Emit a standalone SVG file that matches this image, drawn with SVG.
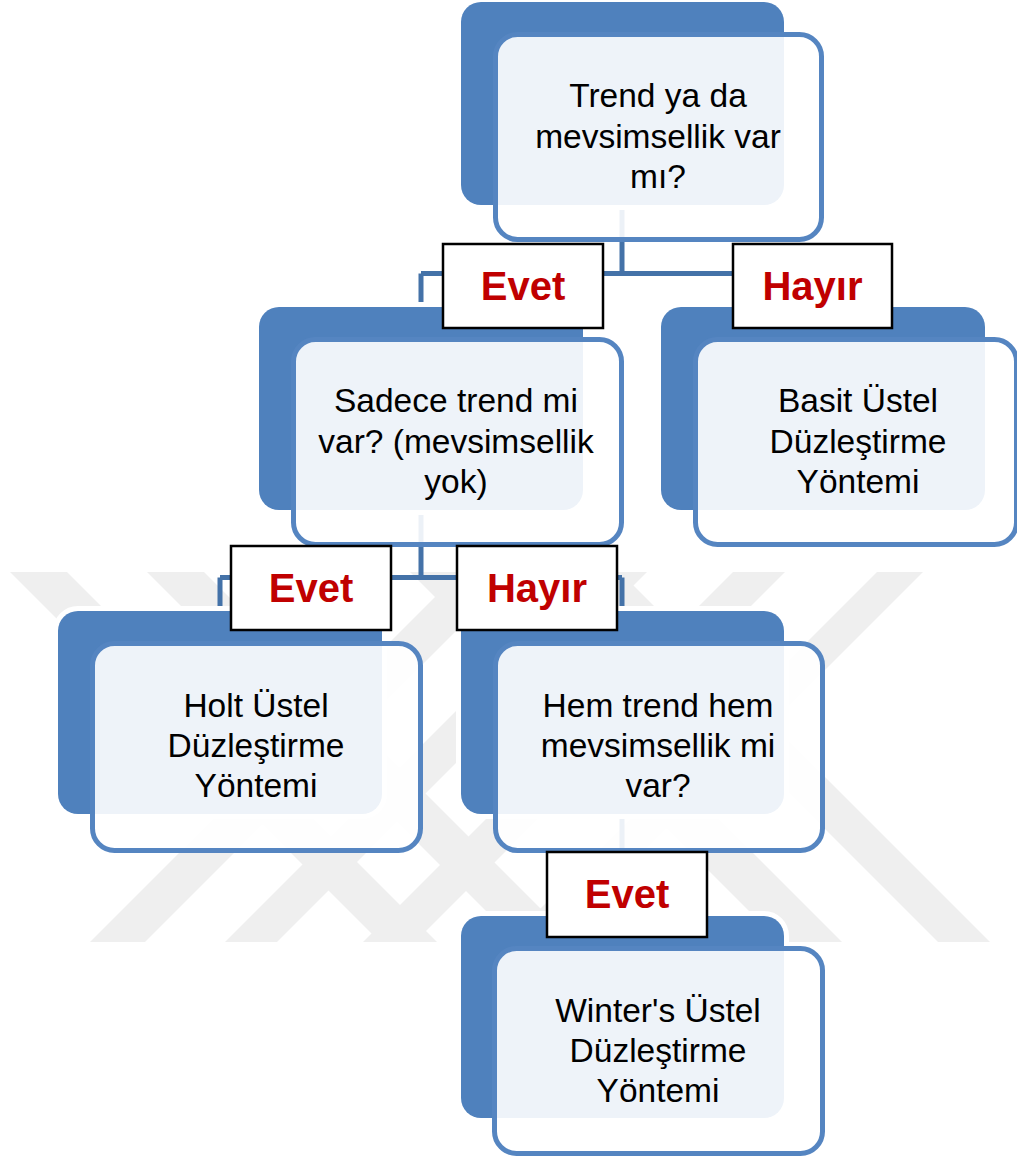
<svg xmlns="http://www.w3.org/2000/svg" width="1017" height="1158" viewBox="0 0 1017 1158">
<style>
.wm{fill:#efefef}
.back{fill:#4f81bd;stroke:#ffffff;stroke-width:10;paint-order:stroke}
.front{fill:#ffffff;fill-opacity:0.9;stroke:#5585c1;stroke-width:5}
.t{font-family:'Liberation Sans',Arial,sans-serif;font-size:33.5px;fill:#000000;text-anchor:middle}
.lb{fill:#ffffff;stroke:#000000;stroke-width:2.5}
.lt{font-family:'Liberation Sans',Arial,sans-serif;font-size:40px;font-weight:bold;fill:#c00000;text-anchor:middle}
.conn{fill:none;stroke:#4472a8;stroke-width:5}
</style>
<rect width="1017" height="1158" fill="#ffffff"/>
<g id="watermark">
<polygon class="wm" points="90,942 145,942 515,572 460,572"/>
<polygon class="wm" points="225,942 277,942 647,572 595,572"/>
<polygon class="wm" points="363,942 415,942 785,572 733,572"/>
<polygon class="wm" points="507,942 553,942 923,572 877,572"/>
<polygon class="wm" points="10,572 67,572 437,942 380,942"/>
<polygon class="wm" points="147,572 204,572 574,942 517,942"/>
<polygon class="wm" points="410,572 472,572 842,942 780,942"/>
<polygon class="wm" points="568,572 620,572 990,942 938,942"/>
</g>
<g id="connectors">
<path class="conn" d="M622 205V273.5M421 273.5H823M421 273.5V307M823 273.5V307"/>
<path class="conn" d="M421 510V577.5M220 577.5H622M220 577.5V611M622 577.5V611"/>
<path class="conn" d="M622 814V916"/>
</g>
<g id="node-trend">
<rect class="back" x="461" y="2" width="323" height="203" rx="20"/>
<rect class="front" x="495.5" y="34.5" width="326" height="205" rx="22"/>
<text class="t" x="658" y="107">Trend ya da</text>
<text class="t" x="658" y="148">mevsimsellik var</text>
<text class="t" x="658" y="188">mı?</text>
</g>
<g id="node-sadece">
<rect class="back" x="259" y="307" width="324" height="203" rx="20"/>
<rect class="front" x="293.5" y="339.5" width="328" height="205" rx="22"/>
<text class="t" x="456" y="412">Sadece trend mi</text>
<text class="t" x="456" y="453">var? (mevsimsellik</text>
<text class="t" x="456" y="493">yok)</text>
</g>
<g id="node-basit">
<rect class="back" x="661" y="307" width="324" height="203" rx="20"/>
<rect class="front" x="695.5" y="339.5" width="321" height="205" rx="22"/>
<text class="t" x="858" y="412">Basit Üstel</text>
<text class="t" x="858" y="453">Düzleştirme</text>
<text class="t" x="858" y="493">Yöntemi</text>
</g>
<g id="node-holt">
<rect class="back" x="58" y="611" width="324" height="203" rx="20"/>
<rect class="front" x="92.5" y="643.5" width="328" height="207" rx="22"/>
<text class="t" x="256" y="717">Holt Üstel</text>
<text class="t" x="256" y="757">Düzleştirme</text>
<text class="t" x="256" y="797">Yöntemi</text>
</g>
<g id="node-hem">
<rect class="back" x="461" y="611" width="323" height="203" rx="20"/>
<rect class="front" x="495.5" y="643.5" width="327" height="207" rx="22"/>
<text class="t" x="658" y="717">Hem trend hem</text>
<text class="t" x="658" y="757">mevsimsellik mi</text>
<text class="t" x="658" y="797">var?</text>
</g>
<g id="node-winter">
<rect class="back" x="461" y="916" width="323" height="202" rx="20"/>
<rect class="front" x="494.5" y="948.5" width="328" height="205" rx="22"/>
<text class="t" x="658" y="1022">Winter's Üstel</text>
<text class="t" x="658" y="1062">Düzleştirme</text>
<text class="t" x="658" y="1102">Yöntemi</text>
</g>
<g id="label-evet-1">
<rect class="lb" x="443" y="244" width="160" height="84"/>
<text class="lt" x="523" y="300">Evet</text>
</g>
<g id="label-hayir-1">
<rect class="lb" x="733" y="244" width="159" height="84"/>
<text class="lt" x="812.5" y="300">Hayır</text>
</g>
<g id="label-evet-2">
<rect class="lb" x="231" y="546" width="160" height="84"/>
<text class="lt" x="311" y="602">Evet</text>
</g>
<g id="label-hayir-2">
<rect class="lb" x="457" y="546" width="160" height="84"/>
<text class="lt" x="537" y="602">Hayır</text>
</g>
<g id="label-evet-3">
<rect class="lb" x="547" y="852" width="160" height="85"/>
<text class="lt" x="627" y="908">Evet</text>
</g>
</svg>
